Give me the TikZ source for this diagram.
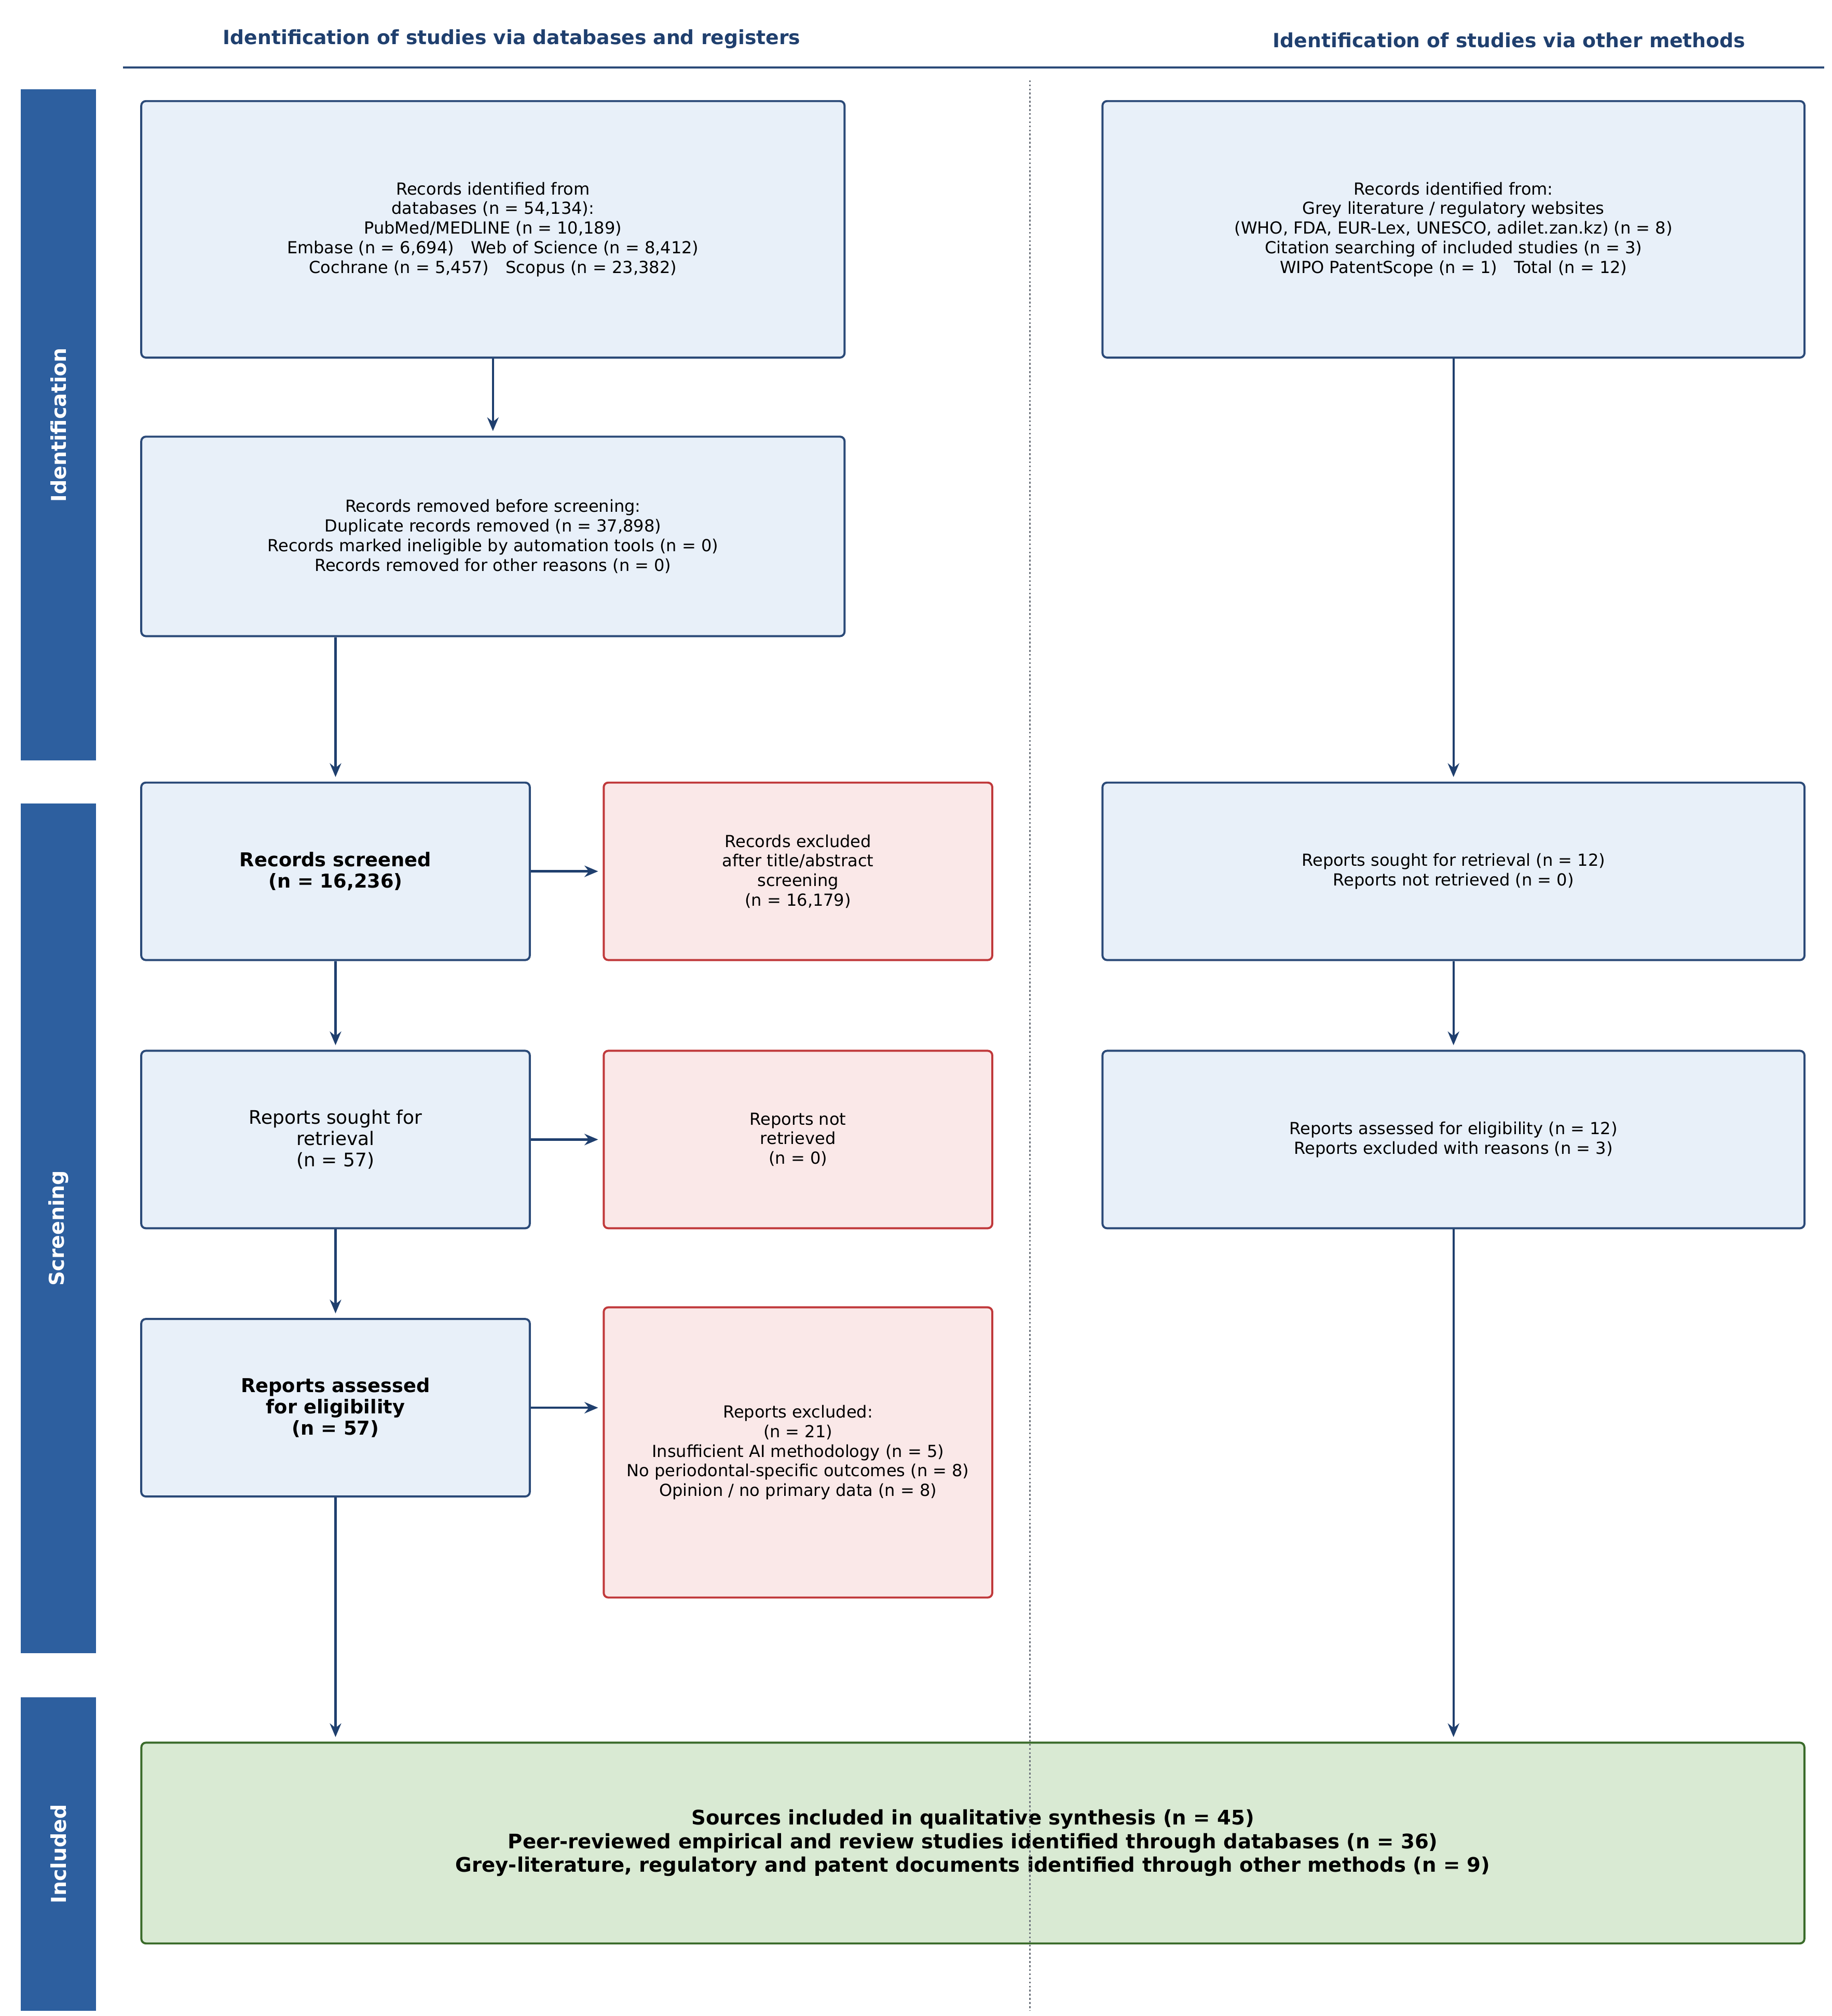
\documentclass[tikz,border=0pt]{standalone}
\usepackage{fontspec}
\setmainfont{DejaVu Sans}
\usetikzlibrary{arrows.meta}
\definecolor{bfill}{HTML}{E8F0F9}
\definecolor{bdraw}{HTML}{2B4A78}
\definecolor{rfill}{HTML}{FAE8E8}
\definecolor{rdraw}{HTML}{C0393B}
\definecolor{gfill}{HTML}{D9EAD3}
\definecolor{gdraw}{HTML}{3A6B2A}
\definecolor{bar}{HTML}{2D5F9F}
\definecolor{head}{HTML}{1F3F6E}
\begin{document}
\begin{tikzpicture}[x=0.02cm,y=-0.02cm,
  bluebox/.style={draw=bdraw,fill=bfill,line width=0.9pt,rounded corners=2pt,align=center,font=\fontsize{7.3}{8.6}\selectfont,inner sep=2pt},
  redbox/.style={draw=rdraw,fill=rfill,line width=0.9pt,rounded corners=2pt,align=center,font=\fontsize{7.3}{8.6}\selectfont,inner sep=2pt},
  greenbox/.style={draw=gdraw,fill=gfill,line width=0.9pt,rounded corners=2pt,align=center,font=\bfseries\fontsize{8.8}{10.4}\selectfont,inner sep=2pt},
  arr/.style={-{Stealth[length=6pt,width=5pt]},draw=head,line width=1pt,shorten >=2pt},
  sidebar/.style={fill=bar,draw=none},
  sidetext/.style={rotate=90,text=white,font=\bfseries\fontsize{9}{10}\selectfont},
  heading/.style={text=head,font=\bfseries\fontsize{8.6}{10}\selectfont}]
\useasboundingbox (0,0) rectangle (1414,1556);
% headings
\node[heading] (h1) at (395,30) {Identification of studies via databases and registers};
\node[heading] (h2) at (1165,31) {Identification of studies via other methods};
\draw[bdraw,line width=0.8pt] (95,52) -- (1408,52);
% side bars
\fill[sidebar] (16,69) rectangle (74,587);
\fill[sidebar] (16,620) rectangle (74,1276);
\fill[sidebar] (16,1310) rectangle (74,1552);
\node[sidetext] (s1) at (45,328) {Identification};
\node[sidetext] (s2) at (45,948) {Screening};
\node[sidetext] (s3) at (45,1431) {Included};
% boxes
\node[bluebox,minimum width=10.86cm,minimum height=3.96cm] (a) at (380.5,177) {Records identified from\\databases (n = 54,134):\\PubMed/MEDLINE (n = 10,189)\\Embase (n = 6,694)\quad Web of Science (n = 8,412)\\Cochrane (n = 5,457)\quad Scopus (n = 23,382)};
\node[bluebox,minimum width=10.86cm,minimum height=3.08cm] (b) at (380.5,414) {Records removed before screening:\\Duplicate records removed (n = 37,898)\\Records marked ineligible by automation tools (n = 0)\\Records removed for other reasons (n = 0)};
\node[bluebox,minimum width=6cm,minimum height=2.74cm,font=\bfseries\fontsize{8.4}{9.4}\selectfont] (scr) at (259,672.5) {Records screened\\(n = 16,236)};
\node[redbox,minimum width=6cm,minimum height=2.74cm] (ex1) at (616,672.5) {Records excluded\\after title/abstract\\screening\\(n = 16,179)};
\node[bluebox,minimum width=6cm,minimum height=2.74cm,font=\fontsize{8.2}{9.4}\selectfont] (sou) at (259,879.5) {Reports sought for\\retrieval\\(n = 57)};
\node[redbox,minimum width=6cm,minimum height=2.74cm] (nr) at (616,879.5) {Reports not\\retrieved\\(n = 0)};
\node[bluebox,minimum width=6cm,minimum height=2.74cm,font=\bfseries\fontsize{8.4}{9.4}\selectfont] (ass) at (259,1086.5) {Reports assessed\\for eligibility\\(n = 57)};
\node[redbox,minimum width=6cm,minimum height=4.48cm] (ex2) at (616,1121) {Reports excluded:\\(n = 21)\\Insufficient AI methodology (n = 5)\\No periodontal-specific outcomes (n = 8)\\Opinion / no primary data (n = 8)};
\node[bluebox,minimum width=10.84cm,minimum height=3.96cm] (rt) at (1122,177) {Records identified from:\\Grey literature / regulatory websites\\(WHO, FDA, EUR-Lex, UNESCO, adilet.zan.kz) (n = 8)\\Citation searching of included studies (n = 3)\\WIPO PatentScope (n = 1)\quad Total (n = 12)};
\node[bluebox,minimum width=10.84cm,minimum height=2.74cm] (rs) at (1122,672.5) {Reports sought for retrieval (n = 12)\\Reports not retrieved (n = 0)};
\node[bluebox,minimum width=10.84cm,minimum height=2.74cm] (ra) at (1122,879.5) {Reports assessed for eligibility (n = 12)\\Reports excluded with reasons (n = 3)};
\node[greenbox,minimum width=25.68cm,minimum height=3.1cm] (inc) at (751,1422.5) {Sources included in qualitative synthesis (n = 45)\\Peer-reviewed empirical and review studies identified through databases (n = 36)\\Grey-literature, regulatory and patent documents identified through other methods (n = 9)};
% divider
\coordinate (dt) at (795,62);
\coordinate (db) at (795,1552);
\draw[gray!80!bdraw,densely dotted,line width=0.8pt] (dt) -- (db);
% arrows
\draw[arr] (a) -- (b);
\draw[arr] (b.south -| scr.north) -- (scr.north);
\draw[arr] (scr) -- (sou);
\draw[arr] (sou) -- (ass);
\draw[arr] (ass.south) -- (ass.south |- inc.north);
\draw[arr] (scr) -- (ex1);
\draw[arr] (sou) -- (nr);
\draw[arr] (ass.east) -- (ass.east -| ex2.west);
\draw[arr] (rt) -- (rs);
\draw[arr] (rs) -- (ra);
\draw[arr] (ra.south) -- (ra.south |- inc.north);
\end{tikzpicture}
\end{document}
